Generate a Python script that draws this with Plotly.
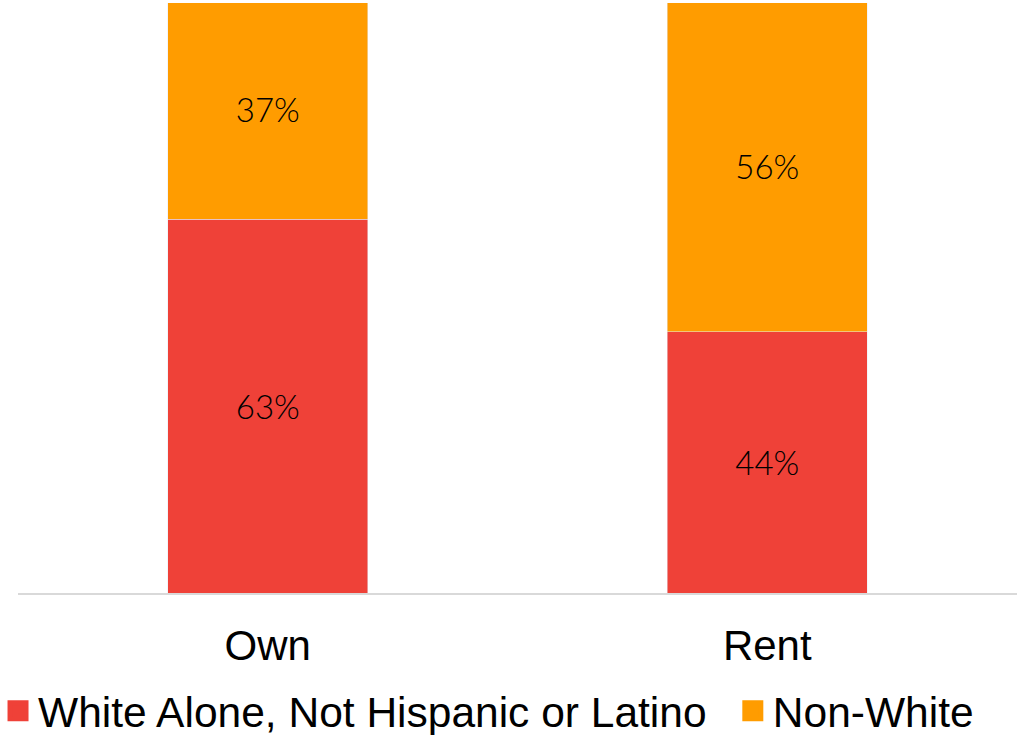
import plotly.graph_objects as go

categories = ["Own", "Rent"]
white_vals = [63, 44]
nonwhite_vals = [37, 56]
series_names = ["White Alone, Not Hispanic or Latino", "Non-White"]

RED = "#EF4138"
ORANGE = "#FF9C00"
LABEL_FONT = dict(family="Lato", size=33, color="#000000", weight=300)

fig = go.Figure()
for vals, name, col in [(white_vals, series_names[0], RED), (nonwhite_vals, series_names[1], ORANGE)]:
    fig.add_trace(go.Bar(
        x=categories, y=vals, name=name, marker_color=col,
        text=[f"{v}%" for v in vals], textposition="inside",
        insidetextanchor="middle", textfont=LABEL_FONT, textangle=0,
        showlegend=False,
    ))
# legend entries with large square swatches
legend_labels = [series_names[0] + "\u2002", series_names[1]]
for name, col in [(legend_labels[0], RED), (legend_labels[1], ORANGE)]:
    fig.add_trace(go.Scatter(
        x=[None], y=[None], mode="markers", name=name,
        marker=dict(symbol="square", size=16, color=col, line=dict(color=col, width=5)),
        showlegend=True,
    ))

fig.update_layout(
    barmode="stack",
    width=1017, height=735,
    margin=dict(l=18, r=0, t=3, b=142, autoexpand=False),
    paper_bgcolor="white", plot_bgcolor="white",
    bargap=0.6,
    showlegend=True,
    legend=dict(
        orientation="h", x=-0.02, xanchor="left", y=-0.2, yanchor="middle",
        font=dict(family="Liberation Sans, Arial", size=42.5, color="#000000"),
        itemsizing="trace", traceorder="normal",
        itemwidth=30,
    ),
)
fig.update_xaxes(
    showline=True, linecolor="#D9D9D9", linewidth=2, automargin=False,
    showgrid=False, ticks="", ticklabelstandoff=15,
    tickfont=dict(family="Liberation Sans, Arial", size=42, color="#000000"),
)
fig.update_yaxes(
    range=[0, 99.4], showgrid=False, showticklabels=False, zeroline=False,
    showline=False, automargin=False,
)

fig.write_html("out.html")
